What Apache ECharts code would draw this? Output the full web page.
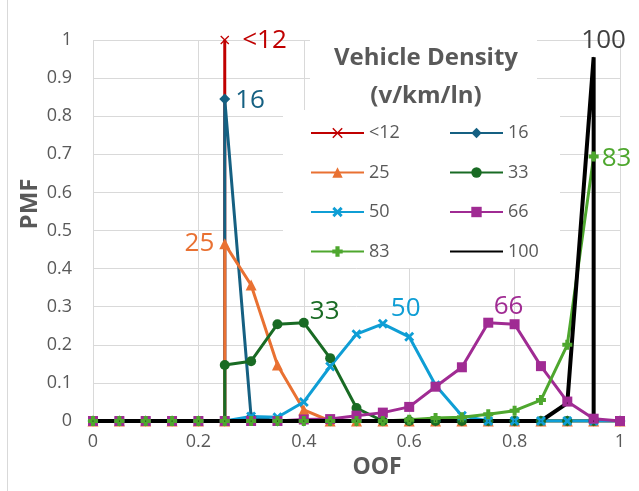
<!DOCTYPE html>
<html>
<head>
<meta charset="utf-8">
<script src="https://cdn.jsdelivr.net/npm/echarts@6/dist/echarts.min.js"></script>
<style>
  html, body { margin: 0; padding: 0; background: #fff; }
  #chart { width: 639px; height: 491px; }
</style>
</head>
<body>
<div id="chart"></div>
<script>
// OOF bins (x) and PMF per vehicle density (null = no point)
const oof = [0, 0.05, 0.1, 0.15, 0.2, 0.25, 0.3, 0.35, 0.4, 0.45, 0.5, 0.55, 0.6, 0.65, 0.7, 0.75, 0.8, 0.85, 0.9, 0.95, 1];
const pmfLt12 = [0, 0, 0, 0, 0, 1, null, null, null, null, null, null, null, null, null, null, null, null, null, null, null];
const pmf16 = [0, 0, 0, 0, 0, 0.845, 0.011, 0, 0, 0, 0, 0, 0, 0, 0, 0, 0, 0, 0, 0, 0];
const pmf25 = [0, 0, 0, 0, 0, 0.465, 0.357, 0.147, 0.029, 0, 0, 0, 0, 0, 0, 0, 0, 0, 0, 0, 0];
const pmf33 = [0, 0, 0, 0, 0, 0.147, 0.157, 0.254, 0.258, 0.165, 0.034, 0, 0, 0, 0, 0, 0, 0, 0, 0, 0];
const pmf50 = [0, 0, 0, 0, 0, 0, 0.012, 0.01, 0.05, 0.143, 0.228, 0.255, 0.221, 0.094, 0.014, 0, 0, 0, 0, 0, 0];
const pmf66 = [0, 0, 0, 0, 0, 0, 0, 0, 0.004, 0.005, 0.014, 0.022, 0.037, 0.09, 0.141, 0.258, 0.254, 0.144, 0.051, 0.006, 0];
const pmf83 = [0, 0, 0, 0, 0, 0, 0, 0, 0, 0, 0, 0, 0.003, 0.008, 0.01, 0.018, 0.027, 0.055, 0.2, 0.694, null];
const pmf100 = [0, 0, 0, 0, 0, 0, 0, 0, 0, 0, 0, 0, 0, 0, 0, 0, 0, 0, 0.047, 0.955, null];

const xPath = 'path://M0,1L1,0L5,4L9,0L10,1L6,5L10,9L9,10L5,6L1,10L0,9L4,5Z';
const xThick = 'path://M0,2L2,0L5,3L8,0L10,2L7,5L10,8L8,10L5,7L2,10L0,8L3,5Z';
const plus = 'path://M3,0H7V3H10V7H7V10H3V7H0V3H3Z';
const font = 'Open Sans';

// rise: vertical jump from 0 at that bin; drop: vertical fall to 0 after it
const seriesDefs = [
  { name: '<12', ys: pmfLt12, color: '#C00000', symbol: xPath, size: 9, rise: 5, labelAt: 5, labelPos: 'right', offset: [8, 1] },
  { name: '16', ys: pmf16, color: '#156082', symbol: 'diamond', size: 11, rise: 5, labelAt: 5, labelPos: 'right', offset: [0, 2] },
  { name: '25', ys: pmf25, color: '#E97132', symbol: 'triangle', size: 11, rise: 5, labelAt: 5, labelPos: 'left', offset: [0, 0] },
  { name: '33', ys: pmf33, color: '#196B24', symbol: 'circle', size: 10, rise: 5, labelAt: 8, labelPos: 'right', offset: [-4, -11] },
  { name: '50', ys: pmf50, color: '#0F9ED5', symbol: xThick, size: 10, labelAt: 11, labelPos: 'right', offset: [-2, -15] },
  { name: '66', ys: pmf66, color: '#A02B93', symbol: 'rect', size: 10, labelAt: 16, labelPos: 'top', offset: [-6, 5] },
  { name: '83', ys: pmf83, color: '#4EA72E', symbol: plus, size: 10, labelAt: 19, labelPos: 'right', offset: [-2, 2] },
  { name: '100', ys: pmf100, color: '#000000', symbol: 'circle', size: 1, drop: 19, labelAt: 19, labelPos: 'top', offset: [10, 2], labelColor: '#404040', width: 4 }
];

function buildData(def) {
  const data = [];
  def.ys.forEach((y, i) => {
    if (y === null) return;
    if (i === def.rise) data.push([oof[i], 0]);
    if (i === def.labelAt) {
      data.push({
        value: [oof[i], y],
        label: {
          show: true,
          formatter: def.name,
          position: def.labelPos,
          offset: def.offset,
          distance: 5,
          color: def.labelColor || def.color,
          fontSize: 26,
          fontFamily: font
        }
      });
    } else {
      data.push([oof[i], y]);
    }
    if (i === def.drop) data.push([oof[i], 0]);
  });
  return data;
}

const chart = echarts.init(document.getElementById('chart'));

const legendBase = {
  orient: 'vertical',
  top: 119,
  itemWidth: 53,
  itemHeight: 13,
  itemGap: 21.5,
  textStyle: { color: '#595959', fontSize: 18, fontFamily: font },
  selectedMode: false,
  z: 5
};

const option = {
  animation: false,
  backgroundColor: '#ffffff',
  textStyle: { fontFamily: font },
  title: {
    text: 'Vehicle Density\n(v/km/ln)',
    left: 421,
    top: 34,
    textAlign: 'center',
    z: 6,
    textStyle: { color: '#595959', fontSize: 24, fontWeight: 'bold', fontFamily: font, lineHeight: 38 }
  },
  legend: [
    Object.assign({}, legendBase, { left: 305, data: ['<12', '25', '50', '83'] }),
    Object.assign({}, legendBase, { left: 444, data: ['16', '33', '66', { name: '100', itemStyle: { opacity: 0 } }] })
  ],
  grid: { left: 93, right: 19, top: 40, bottom: 70 },
  xAxis: {
    type: 'value',
    min: 0,
    max: 1,
    interval: 0.2,
    axisLine: { show: true, lineStyle: { color: '#d9d9d9' } },
    axisTick: { show: false },
    axisLabel: { color: '#595959', fontSize: 18, fontFamily: font, margin: 12 },
    splitLine: { show: true, lineStyle: { color: '#d9d9d9', width: 1 } }
  },
  yAxis: {
    type: 'value',
    min: 0,
    max: 1,
    interval: 0.1,
    axisLine: { show: false },
    axisTick: { show: false },
    axisLabel: { color: '#595959', fontSize: 18, fontFamily: font, margin: 21 },
    splitLine: { show: true, lineStyle: { color: '#d9d9d9', width: 1 } }
  },
  graphic: [
    { type: 'line', shape: { x1: 7.5, y1: 0, x2: 7.5, y2: 491 }, style: { stroke: '#d9d9d9', lineWidth: 1 }, z: 1 },
    { type: 'rect', shape: { x: 310, y: 30, width: 227, height: 81 }, style: { fill: '#ffffff' }, z: 1 },
    { type: 'rect', shape: { x: 283, y: 110, width: 277, height: 158 }, style: { fill: '#ffffff' }, z: 1 },
    {
      type: 'text', x: 30, y: 204, rotation: Math.PI / 2,
      style: { text: 'PMF', fill: '#595959', font: 'bold 24px "Open Sans"', align: 'center', verticalAlign: 'middle' }, z: 3
    },
    {
      type: 'text', x: 377, y: 467,
      style: { text: 'OOF', fill: '#595959', font: 'bold 23px "Open Sans"', align: 'center', verticalAlign: 'middle' }, z: 3
    }
  ],
  series: seriesDefs.map(def => ({
    name: def.name,
    type: 'line',
    data: buildData(def),
    symbol: def.symbol,
    symbolSize: def.size,
    showAllSymbol: true,
    connectNulls: false,
    z: 3,
    itemStyle: { color: def.color },
    lineStyle: { color: def.color, width: def.width || 3 },
    emphasis: { disabled: true }
  }))
};

chart.setOption(option);
</script>
</body>
</html>
